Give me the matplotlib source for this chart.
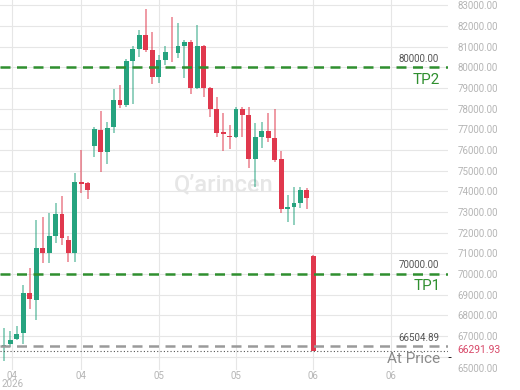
import numpy as np
import matplotlib
matplotlib.use('Agg')
import matplotlib.pyplot as plt

# hourly candles
opens = [66470, 66612, 66854, 67144, 69080, 68742, 71258, 71016, 71839, 72904,
         71646, 71016, 74429, 74404, 76195, 76970, 75905, 77115, 78422, 78180,
         80309, 80890, 81568, 80842, 79535, 80358, 80769, 80696, 81035, 81229,
         79002, 81035, 79002, 77986, 76849, 76703, 76631, 77986, 77696, 75566,
         76631, 76921, 76582, 75566, 73170, 73243, 73436, 74066, 70871]
highs = [67390, 67241, 67483, 69468, 70290, 72614, 72759, 72952, 73436, 73775,
         71839, 74888, 76002, 74453, 77115, 77889, 77357, 78954, 79148, 80406,
         81035, 81810, 82826, 81713, 80600, 81035, 82439, 82148, 81326, 81326,
         82052, 81084, 79051, 78567, 77792, 77212, 78083, 78083, 78083, 77308,
         77357, 77792, 77986, 75953, 73824, 74211, 74211, 74162, 70900]
lows = [65790, 66467, 66806, 66612, 68306, 67774, 70532, 70532, 71500, 71404,
        70581, 70581, 73920, 73630, 75663, 74937, 75324, 76824, 78034, 78083,
        78228, 80503, 80745, 79196, 79244, 80116, 80261, 80454, 79486, 78712,
        78954, 78567, 77599, 76631, 75953, 76050, 76600, 76631, 75130, 74211,
        76098, 76389, 75421, 72952, 72517, 72372, 73194, 73146, 66280]
closes = [66560, 66806, 67096, 69080, 68790, 71258, 71016, 71839, 72904, 71742,
          71016, 74453, 74380, 74066, 77018, 75905, 77066, 78422, 78180, 80309,
          80890, 81568, 80842, 79535, 80358, 80745, 80721, 81035, 81229, 79002,
          81035, 79002, 77986, 76824, 76800, 76655, 77986, 77696, 75566, 76631,
          76921, 76582, 75518, 73146, 73219, 73436, 74066, 73678, 66291.93]

tick_pos = [1.3, 12, 24, 36, 48, 60]
tick_labels = ['04\n2026', '04', '05', '05', '06', '06']
y_ticks = list(range(67000, 84000, 1000))

tp_levels = [80000, 70000]
tp_names = ['TP2', 'TP1']
entry = 66504.89
last_price = 66291.93

GREEN = '#26a37f'
RED = '#e0384d'

fig = plt.figure(figsize=(5.2, 3.9), dpi=100)
ax = fig.add_axes([0, 20 / 390, 448 / 520, 370 / 390])

x = np.arange(len(opens))
o = np.array(opens, float)
c = np.array(closes, float)
h = np.array(highs, float)
l = np.array(lows, float)
up = c >= o
cols = np.where(up, GREEN, RED)

ax.vlines(x, l, h, colors=cols, linewidth=1.3, alpha=0.55, zorder=3)
body_bot = np.minimum(o, c)
body_h = np.maximum(np.abs(c - o), 45)
ax.bar(x, body_h, bottom=body_bot, width=0.75, color=cols, zorder=4)

# target lines
for lev, name in zip(tp_levels, tp_names):
    ax.axhline(lev, color='#2f8f2f', lw=1.8, ls=(0, (4, 2.6)), zorder=5)
    ax.text(0.98, lev + 180, '%.2f' % lev, transform=ax.get_yaxis_transform(),
            ha='right', va='bottom', fontsize=7, color='#555555', family='Roboto')
    ax.text(0.983, lev - 250, name, transform=ax.get_yaxis_transform(),
            ha='right', va='top', fontsize=11, color='#2f8f2f', family='Roboto')

ax.axhline(entry, color='#9a9a9a', lw=1.8, ls=(0, (4, 2.6)), zorder=5)
ax.text(0.98, entry + 180, '%.2f' % entry, transform=ax.get_yaxis_transform(),
        ha='right', va='bottom', fontsize=7, color='#555555', family='Roboto')
ax.axhline(last_price, color='#555555', lw=0.8, ls=(0, (1, 2)), zorder=5)
ax.text(0.983, last_price - 80, 'At Price', transform=ax.get_yaxis_transform(),
        ha='right', va='top', fontsize=11, color='#8a8a8a', family='Roboto')

# watermark
ax.text(0.5, 0.5, 'Q\u2019arincen', transform=ax.transAxes, ha='center', va='center',
        fontsize=17, color='#e6e6e6', family='Roboto', fontweight='medium', zorder=1)

ax.set_xlim(-0.62, 68.9)
ax.set_ylim(65354, 83262)
ax.set_xticks(tick_pos)
ax.set_xticklabels(tick_labels)
ax.set_yticks(y_ticks)
ax.set_yticklabels(['%.2f' % v for v in y_ticks])
ax.yaxis.tick_right()
ax.tick_params(axis='y', length=0, pad=7, labelsize=7, labelcolor='#b5b5b5')
ax.tick_params(axis='x', length=0, pad=0.5, labelsize=7, labelcolor='#b5b5b5')
for lab in ax.get_xticklabels() + ax.get_yticklabels():
    lab.set_family('Roboto')
ax.get_xticklabels()[0].set_linespacing(0.85)
ax.set_yticks(range(66000, 84000, 1000), minor=True)
ax.grid(True, which='both', color='#e6e6e6', lw=0.8, zorder=0)
for s in ax.spines.values():
    s.set_visible(False)

# price labels outside the plot
fig.text(457 / 520, 1 - 350 / 390, '%.2f' % last_price, ha='left', va='center',
         fontsize=7.5, color='#d84a6a', family='Roboto',
         bbox=dict(facecolor='white', edgecolor='none', pad=1))
fig.text(457 / 520, 1 - 369 / 390, '65000.00', ha='left', va='center',
         fontsize=7, color='#b5b5b5', family='Roboto')

fig.savefig('out.png', dpi=100, facecolor='white')
